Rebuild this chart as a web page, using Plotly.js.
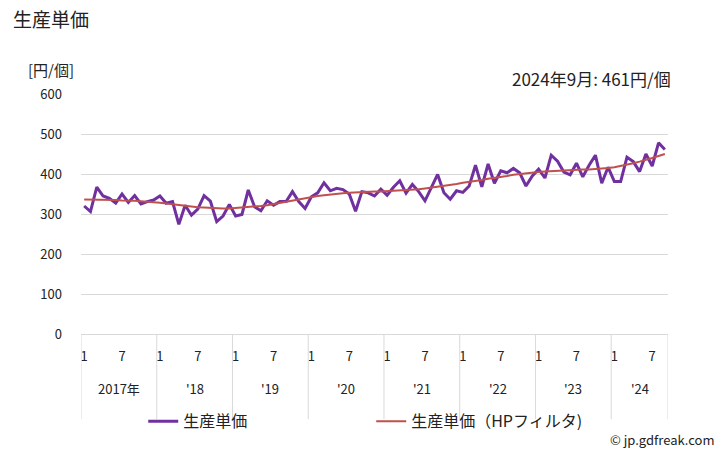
<!DOCTYPE html>
<html><head><meta charset="utf-8">
<script src="https://cdn.plot.ly/plotly-3.0.1.min.js"></script>
<style>html,body{margin:0;padding:0;background:#fff}#c{width:728px;height:450px}</style>
</head><body><div id="c"></div>
<script>
const years = [2017, 2018, 2019, 2020, 2021, 2022, 2023, 2024];
const yearLabels = ["2017年", "'18", "'19", "'20", "'21", "'22", "'23", "'24"];
const monthsInYear = [12, 12, 12, 12, 12, 12, 12, 9];
const monthTickLabels = ["1", "7"];
const price = [
  320, 306, 367, 345, 339, 327, 350, 329, 346, 325, 331, 335,
  345, 327, 331, 274, 322, 297, 312, 346, 332, 281, 295, 324,
  295, 299, 360, 318, 308, 333, 322, 331, 331, 356, 331, 314,
  343, 353, 378, 358, 364, 361, 350, 307, 356, 353, 345, 362,
  347, 367, 383, 352, 374, 356, 333, 368, 399, 353, 337, 358,
  354, 370, 422, 368, 425, 377, 408, 403, 414, 403, 370, 395,
  412, 390, 447, 432, 405, 398, 427, 393, 422, 447, 377, 417,
  381, 381, 442, 431, 406, 450, 420, 478, 461
];
const trend = [
  336, 336, 336, 335, 335, 335, 334, 334, 333, 332, 331, 329,
  328, 326, 324, 322, 320, 318, 317, 316, 315, 314, 314, 314,
  315, 316, 317, 318, 320, 322, 325, 328, 331, 334, 337, 340,
  343, 345, 347, 349, 351, 352, 353, 354, 355, 355, 356, 356,
  357, 357, 358, 359, 360, 362, 364, 366, 368, 370, 373, 375,
  378, 380, 383, 385, 388, 390, 393, 395, 398, 400, 402, 403,
  405, 406, 407, 408, 409, 410, 410, 411, 411, 412, 413, 415,
  417, 420, 423, 427, 431, 435, 440, 445, 450
];
const seriesNames = ["生産単価", "生産単価（HPフィルタ)"];
const latestNote = "2024年9月: 461円/個";

// build index positions
const xs = price.map((_, i) => i);
const tickvals = [], ticktext = [];
const yearCenters = [], boundaries = [-0.5];
let start = 0;
monthsInYear.forEach((n, k) => {
  for (let m = 0; m < n; m++) {
    if (m === 0) { tickvals.push(start + m); ticktext.push(monthTickLabels[0]); }
    if (m === 6) { tickvals.push(start + m); ticktext.push(monthTickLabels[1]); }
  }
  yearCenters.push(start + (n - 1) / 2);
  start += n;
  boundaries.push(start - 0.5);
});

const FONT = '"Noto Sans CJK JP", "Noto Sans", sans-serif';
const shapes = boundaries.map(b => ({
  type: 'line', xref: 'x', yref: 'paper', x0: b, x1: b, y0: 0, y1: -0.355,
  line: {color: '#d9d9d9', width: 1}
}));
const annotations = yearLabels.map((t, k) => ({
  xref: 'x', yref: 'paper', x: yearCenters[k], y: -0.225, text: t, showarrow: false,
  font: {size: 13, color: '#222'}, xanchor: 'center', yanchor: 'middle'
}));
annotations.push({xref: 'paper', yref: 'paper', x: -0.093, y: 1.1, text: '[円/個]', showarrow: false,
  xanchor: 'left', yanchor: 'middle', font: {size: 15, color: '#222'}});
annotations.push({xref: 'paper', yref: 'paper', x: 1.008, y: 1.065, text: latestNote, showarrow: false,
  xanchor: 'right', yanchor: 'middle', font: {size: 17, color: '#222'}});
annotations.push({xref: 'paper', yref: 'paper', x: 1.083, y: -0.44, text: '© jp.gdfreak.com', showarrow: false,
  xanchor: 'right', yanchor: 'middle', font: {size: 13, color: '#222'}});

const data = [
  {x: xs, y: price, name: seriesNames[0], type: 'scatter', mode: 'lines',
   line: {color: '#7030a0', width: 3}},
  {x: xs, y: trend, name: seriesNames[1], type: 'scatter', mode: 'lines',
   line: {color: '#c0504d', width: 2}}
];
const layout = {
  width: 728, height: 450,
  margin: {l: 81, r: 60, t: 94, b: 116},
  paper_bgcolor: '#fff', plot_bgcolor: '#fff',
  font: {family: FONT, color: '#222'},
  title: {text: '生産単価', x: 0.018, xanchor: 'left', y: 0.955, yanchor: 'middle', font: {size: 19, color: '#222'}},
  showlegend: true,
  legend: {orientation: 'h', x: 0.106, xanchor: 'left', y: -0.293, yanchor: 'top',
    font: {size: 16, color: '#222'}, entrywidth: 183, entrywidthmode: 'pixels', bgcolor: 'rgba(0,0,0,0)'},
  xaxis: {range: [-0.5, 92.5], tickvals: tickvals, ticktext: ticktext, ticks: '', showgrid: false,
    zeroline: false, showline: false, tickfont: {size: 13, color: '#222'}, ticklabelstandoff: 13, fixedrange: true},
  yaxis: {range: [0, 600], dtick: 100, tick0: 0, showgrid: true, gridcolor: '#d9d9d9', gridwidth: 1,
    zeroline: true, zerolinecolor: '#d9d9d9', zerolinewidth: 1, showline: false, ticks: '',
    tickfont: {size: 13, color: '#222'}, ticklabelstandoff: 18, fixedrange: true},
  shapes: shapes, annotations: annotations
};
Plotly.newPlot('c', data, layout, {displayModeBar: false, staticPlot: true});
</script></body></html>
